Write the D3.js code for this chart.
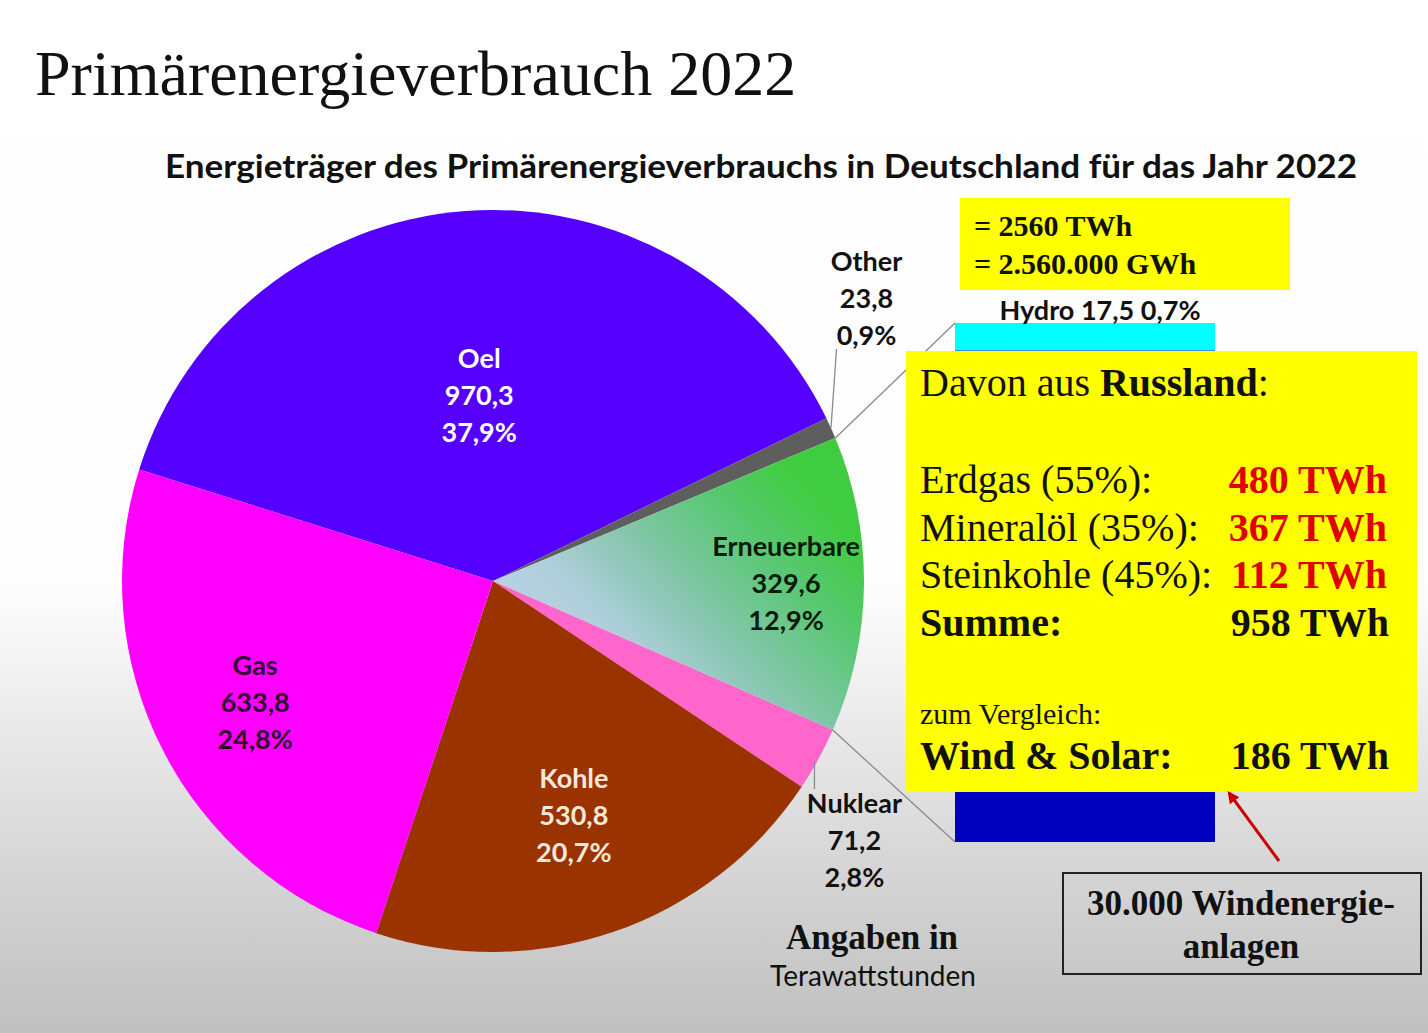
<!DOCTYPE html>
<html>
<head>
<meta charset="utf-8">
<script src="https://cdn.jsdelivr.net/npm/d3@7"></script>
<style>
  html, body { margin: 0; padding: 0; background: #fff; }
  svg { display: block; }
</style>
</head>
<body>
<svg id="chart" width="1428" height="1033"></svg>
<script>
// Energieträger (TWh), 2022
const categories = ["Oel", "Other", "Erneuerbare", "Nuklear", "Kohle", "Gas"];
const valuesTWh = [970.3, 23.8, 329.6, 71.2, 530.8, 633.8];

// Aufteilung Erneuerbare (bar of pie)
const barParts = ["Hydro", "Rest"];
const barValues = [17.5, 312.1];

// Davon aus Russland
const russiaSources = ["Erdgas (55%):", "Mineralöl (35%):", "Steinkohle (45%):"];
const russiaTWh = [480, 367, 112];
const summeTWh = 958; // as printed on the slide
const windSolarTWh = 186;
const totalLines = ["= 2560 TWh", "= 2.560.000 GWh"];

const colors = {
    Oel: "#5500ff", Other: "#5e5e5e", Erneuerbare: "url(#gradRen)",
    Nuklear: "#ff66cc", Kohle: "url(#gradKohle)", Gas: "url(#gradGas)"
};
const textColors = {
    Oel: "#ffffff", Other: "#111", Erneuerbare: "#0c1a0c",
    Nuklear: "#111", Kohle: "#f6e8da", Gas: "#33002f"
};
const labelRadius = { Oel: 0.5, Erneuerbare: 0.79, Kohle: 0.67, Gas: 0.72 };
const barColors = { Hydro: "#00ffff", Rest: "#0000c0" };

const svg = d3.select("#chart");
const W = 1428, H = 1033;
const cx = 493, cy = 581, radius = 371;
const sans = "Lato, 'Open Sans', sans-serif";
const serif = "'Liberation Serif', 'Times New Roman', serif";

const total = d3.sum(valuesTWh);
const fmt1 = v => d3.format(".1f")(v).replace(".", ",");
const pct = v => fmt1(v / total * 100) + "%";

// gradients
const defs = svg.append("defs");
const bg = defs.append("linearGradient").attr("id", "bgGrad")
    .attr("x1", 0).attr("y1", 0).attr("x2", 0).attr("y2", 1);
bg.append("stop").attr("offset", 0).attr("stop-color", "#ffffff");
bg.append("stop").attr("offset", 0.58).attr("stop-color", "#fcfcfc");
bg.append("stop").attr("offset", 0.85).attr("stop-color", "#d4d4d4");
bg.append("stop").attr("offset", 1).attr("stop-color", "#c0c0c0");

const gRen = defs.append("linearGradient").attr("id", "gradRen")
    .attr("gradientUnits", "userSpaceOnUse")
    .attr("x1", 560).attr("y1", 700).attr("x2", 830).attr("y2", 440);
[[0, "#c2d4ee"], [0.35, "#b0cfdc"], [0.55, "#88c6b0"], [0.8, "#58c872"], [1, "#40cc40"]]
    .forEach(s => gRen.append("stop").attr("offset", s[0]).attr("stop-color", s[1]));

const gGas = defs.append("linearGradient").attr("id", "gradGas")
    .attr("gradientUnits", "userSpaceOnUse")
    .attr("x1", 0).attr("y1", 600).attr("x2", 0).attr("y2", 950);
gGas.append("stop").attr("offset", 0).attr("stop-color", "#ff00ff");
gGas.append("stop").attr("offset", 1).attr("stop-color", "#cc00cc");

const gKohle = defs.append("linearGradient").attr("id", "gradKohle")
    .attr("gradientUnits", "userSpaceOnUse")
    .attr("x1", 0).attr("y1", 600).attr("x2", 0).attr("y2", 950);
gKohle.append("stop").attr("offset", 0).attr("stop-color", "#9a3300");
gKohle.append("stop").attr("offset", 1).attr("stop-color", "#7a2600");

svg.append("rect").attr("width", W).attr("height", H).attr("fill", "url(#bgGrad)");

// titles
svg.append("text")
    .attr("x", 35).attr("y", 95)
    .style("font-family", serif).style("font-size", "64px")
    .attr("fill", "#111")
    .text("Primärenergieverbrauch 2022");

svg.append("text")
    .attr("x", 165).attr("y", 178)
    .attr("textLength", 1192).attr("lengthAdjust", "spacingAndGlyphs")
    .style("font-family", sans).style("font-size", "32px").style("font-weight", "bold")
    .attr("fill", "#111")
    .text("Energieträger des Primärenergieverbrauchs in Deutschland für das Jahr 2022");

// pie (slices are drawn in page coordinates so userSpace gradients line up)
const data = categories.map((c, i) => ({ name: c, value: valuesTWh[i] }));
const toRad = d => d * Math.PI / 180;
const pie = d3.pie().sort(null).value(d => d.value)
    .startAngle(toRad(-72.5)).endAngle(toRad(287.5));
const arcs = pie(data);
const arc = d3.arc().innerRadius(0).outerRadius(radius);

svg.append("g")
    .selectAll("path")
    .data(arcs)
    .enter()
    .append("path")
    .attr("d", d => arc(d))
    .attr("transform", "translate(" + cx + "," + cy + ")")
    .attr("fill", d => colors[d.data.name]);

// polar helper (angle measured clockwise from 12 o'clock)
const polar = (a, r) => [r * Math.sin(a), -r * Math.cos(a)];

function drawLabel(x, y, name, value, color) {
    const lines = [name, fmt1(value), pct(value)];
    const t = svg.append("text")
        .attr("text-anchor", "middle")
        .style("font-family", sans).style("font-size", "27px").style("font-weight", "bold")
        .attr("fill", color);
    lines.forEach((l, i) => {
        t.append("tspan").attr("x", x).attr("y", y + (i - 1) * 37 + 9).text(l);
    });
}

arcs.forEach(d => {
    const mid = (d.startAngle + d.endAngle) / 2;
    const name = d.data.name;
    if (labelRadius[name]) {
        const p = polar(mid, radius * labelRadius[name]);
        drawLabel(cx + p[0], cy + p[1], name, d.data.value, textColors[name]);
    }
});

// outside labels with leader lines
const other = arcs[1], nuk = arcs[3];
const otherMid = (other.startAngle + other.endAngle) / 2;
const nukMid = (nuk.startAngle + nuk.endAngle) / 2;
const oEdge = polar(otherMid, radius), oLab = polar(otherMid - toRad(12.7), 468);
const nEdge = polar(nukMid, radius), nLab = polar(nukMid + toRad(7), 445);

svg.append("line")
    .attr("x1", cx + oEdge[0]).attr("y1", cy + oEdge[1])
    .attr("x2", cx + oLab[0] - 30).attr("y2", cy + oLab[1] + 50)
    .attr("stroke", "#8a8a8a").attr("stroke-width", 1.3);
svg.append("line")
    .attr("x1", cx + nEdge[0] - 4).attr("y1", cy + nEdge[1] + 3)
    .attr("x2", cx + nEdge[0] - 4).attr("y2", cy + nEdge[1] + 30)
    .attr("stroke", "#8a8a8a").attr("stroke-width", 1.3);

drawLabel(cx + oLab[0], cy + oLab[1], "Other", other.data.value, textColors.Other);
drawLabel(cx + nLab[0], cy + nLab[1], "Nuklear", nuk.data.value, textColors.Nuklear);

// bar of pie
const barX = 955, barW = 260;
const yBar = d3.scaleLinear().domain([0, d3.sum(barValues)]).range([323, 842]);
const barCum = d3.cumsum(barValues);
const barData = barParts.map((p, i) => ({ name: p, y0: barCum[i] - barValues[i], y1: barCum[i], value: barValues[i] }));

const ren = arcs[2];
const rTop = polar(ren.startAngle, radius), rBot = polar(ren.endAngle, radius);
svg.append("line")
    .attr("x1", cx + rTop[0]).attr("y1", cy + rTop[1])
    .attr("x2", barX).attr("y2", yBar(0))
    .attr("stroke", "#8a8a8a").attr("stroke-width", 1.3);
svg.append("line")
    .attr("x1", cx + rBot[0]).attr("y1", cy + rBot[1])
    .attr("x2", barX).attr("y2", yBar(d3.sum(barValues)))
    .attr("stroke", "#8a8a8a").attr("stroke-width", 1.3);

svg.selectAll("rect.bar")
    .data(barData)
    .enter()
    .append("rect")
    .attr("class", "bar")
    .attr("x", barX).attr("width", barW)
    .attr("y", d => yBar(d.y0))
    .attr("height", d => yBar(d.y1) - yBar(d.y0))
    .attr("fill", d => barColors[d.name]);

svg.append("text")
    .attr("x", 1100).attr("y", yBar(0) - 3)
    .attr("text-anchor", "middle")
    .style("font-family", sans).style("font-size", "27px").style("font-weight", "bold")
    .attr("fill", "#111")
    .text("Hydro " + fmt1(barValues[0]) + " " + pct(barValues[0]));

// total box
svg.append("rect").attr("x", 960).attr("y", 198).attr("width", 330).attr("height", 92).attr("fill", "#ffff00");
totalLines.forEach((l, i) => {
    svg.append("text")
        .attr("x", 974).attr("y", 236 + i * 38)
        .style("font-family", serif).style("font-size", "30px").style("font-weight", "bold")
        .attr("fill", "#111").text(l);
});

// Russland box
svg.append("rect").attr("x", 906).attr("y", 351).attr("width", 511).attr("height", 441).attr("fill", "#ffff00");
const rus = svg.append("text")
    .attr("x", 920).attr("y", 396)
    .style("font-family", serif).style("font-size", "40px").attr("fill", "#111");
rus.append("tspan").text("Davon aus ");
rus.append("tspan").style("font-weight", "bold").text("Russland");
rus.append("tspan").text(":");

const rowY = [493, 541, 588];
russiaSources.forEach((s, i) => {
    svg.append("text")
        .attr("x", 920).attr("y", rowY[i])
        .style("font-family", serif).style("font-size", "40px").attr("fill", "#111")
        .text(s);
    svg.append("text")
        .attr("x", 1387).attr("y", rowY[i]).attr("text-anchor", "end")
        .style("font-family", serif).style("font-size", "40px").style("font-weight", "bold")
        .attr("fill", "#e00000")
        .text(russiaTWh[i] + " TWh");
});
svg.append("text")
    .attr("x", 920).attr("y", 636)
    .style("font-family", serif).style("font-size", "40px").style("font-weight", "bold")
    .attr("fill", "#111").text("Summe:");
svg.append("text")
    .attr("x", 1389).attr("y", 636).attr("text-anchor", "end")
    .style("font-family", serif).style("font-size", "40px").style("font-weight", "bold")
    .attr("fill", "#111").text(summeTWh + " TWh");

svg.append("text")
    .attr("x", 920).attr("y", 724)
    .style("font-family", serif).style("font-size", "30px")
    .attr("fill", "#111").text("zum Vergleich:");
svg.append("text")
    .attr("x", 920).attr("y", 769)
    .style("font-family", serif).style("font-size", "40px").style("font-weight", "bold")
    .attr("fill", "#111").text("Wind & Solar:");
svg.append("text")
    .attr("x", 1389).attr("y", 769).attr("text-anchor", "end")
    .style("font-family", serif).style("font-size", "40px").style("font-weight", "bold")
    .attr("fill", "#111").text(windSolarTWh + " TWh");

// arrow + wind box
defs.append("marker").attr("id", "arrowHead")
    .attr("viewBox", "0 0 10 10").attr("refX", 8).attr("refY", 5)
    .attr("markerWidth", 4).attr("markerHeight", 4).attr("orient", "auto")
    .append("path").attr("d", "M0,0 L10,5 L0,10 z").attr("fill", "#cc0000");
svg.append("line")
    .attr("x1", 1279).attr("y1", 861).attr("x2", 1229).attr("y2", 793)
    .attr("stroke", "#cc0000").attr("stroke-width", 3)
    .attr("marker-end", "url(#arrowHead)");

svg.append("rect").attr("x", 1063).attr("y", 873).attr("width", 358).attr("height", 101)
    .attr("fill", "none").attr("stroke", "#222").attr("stroke-width", 2);
["30.000 Windenergie-", "anlagen"].forEach((l, i) => {
    svg.append("text")
        .attr("x", 1241).attr("y", 915 + i * 43).attr("text-anchor", "middle")
        .style("font-family", serif).style("font-size", "35px").style("font-weight", "bold")
        .attr("fill", "#111").text(l);
});

// unit note
svg.append("text")
    .attr("x", 872).attr("y", 949).attr("text-anchor", "middle")
    .style("font-family", serif).style("font-size", "35px").style("font-weight", "bold")
    .attr("fill", "#111").text("Angaben in");
svg.append("text")
    .attr("x", 873).attr("y", 986).attr("text-anchor", "middle")
    .style("font-family", sans).style("font-size", "28px")
    .attr("fill", "#111").text("Terawattstunden");
</script>
</body>
</html>
